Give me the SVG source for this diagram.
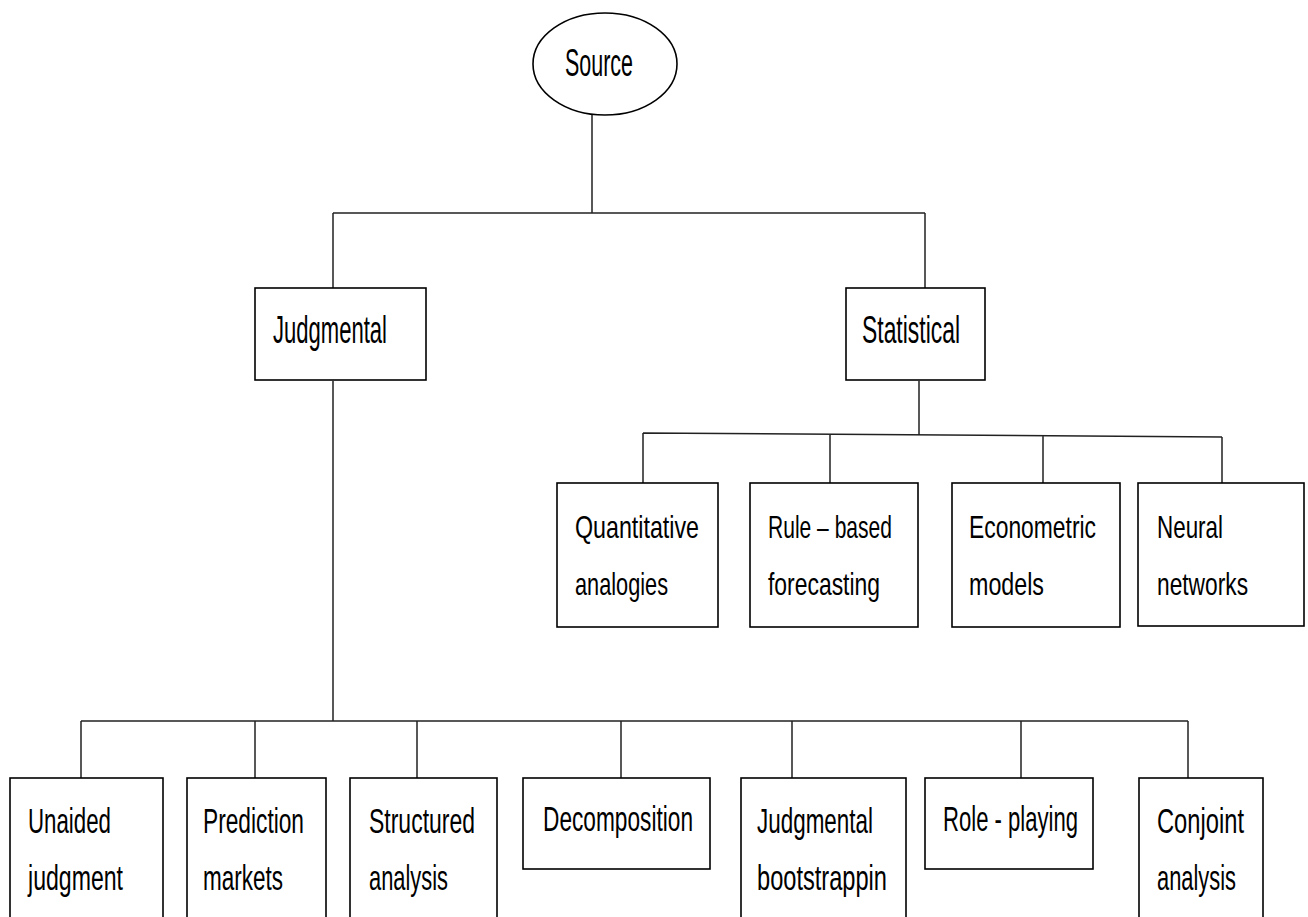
<svg xmlns="http://www.w3.org/2000/svg" width="1308" height="917" viewBox="0 0 1308 917">
<style>
.n{fill:#fff;stroke:#000;stroke-width:1.6}
.c{fill:none;stroke:#222;stroke-width:1.5}
.t{font-family:"Liberation Sans",Arial,sans-serif;fill:#000}
.big{font-size:38px}
.sm{font-size:32px}
.md{font-size:35px}
</style>
<rect width="1308" height="917" fill="#fff"/>
<g id="connectors">
<path class="c" d="M592 115V213M333 213H925M333 213V288M925 213V288"/>
<path class="c" d="M919 381V435M643 433L1222 437M643 433V483M830 434V483M1043 436V483M1222 437V483"/>
<path class="c" d="M333 381V721M81 721H1188M81 721V778M255 721V778M417 721V778M621 721V778M792 721V778M1021 721V778M1188 721V778"/>
</g>
<g id="source">
<ellipse class="n" cx="605" cy="64" rx="72" ry="51"/>
<text class="t big" x="565" y="76" textLength="68" lengthAdjust="spacingAndGlyphs">Source</text>
</g>
<g id="judgmental">
<rect class="n" x="255" y="288" width="171" height="92"/>
<text class="t big" x="273" y="343" textLength="114" lengthAdjust="spacingAndGlyphs">Judgmental</text>
</g>
<g id="statistical">
<rect class="n" x="846" y="288" width="139" height="92"/>
<text class="t big" x="862" y="343" textLength="98" lengthAdjust="spacingAndGlyphs">Statistical</text>
</g>
<g id="quantitative">
<rect class="n" x="557" y="483" width="161" height="144"/>
<text class="t sm" x="575" y="538" textLength="124" lengthAdjust="spacingAndGlyphs">Quantitative</text>
<text class="t sm" x="575" y="595" textLength="93" lengthAdjust="spacingAndGlyphs">analogies</text>
</g>
<g id="rulebased">
<rect class="n" x="750" y="483" width="168" height="144"/>
<text class="t sm" x="768" y="538" textLength="124" lengthAdjust="spacingAndGlyphs">Rule – based</text>
<text class="t sm" x="768" y="595" textLength="112" lengthAdjust="spacingAndGlyphs">forecasting</text>
</g>
<g id="econometric">
<rect class="n" x="952" y="483" width="168" height="144"/>
<text class="t sm" x="969" y="538" textLength="127" lengthAdjust="spacingAndGlyphs">Econometric</text>
<text class="t sm" x="969" y="595" textLength="75" lengthAdjust="spacingAndGlyphs">models</text>
</g>
<g id="neural">
<rect class="n" x="1138" y="483" width="166" height="143"/>
<text class="t sm" x="1157" y="538" textLength="66" lengthAdjust="spacingAndGlyphs">Neural</text>
<text class="t sm" x="1157" y="595" textLength="91" lengthAdjust="spacingAndGlyphs">networks</text>
</g>
<g id="unaided">
<rect class="n" x="10" y="778" width="153" height="150"/>
<text class="t md" x="28" y="833" textLength="83" lengthAdjust="spacingAndGlyphs">Unaided</text>
<text class="t md" x="28" y="890" textLength="95" lengthAdjust="spacingAndGlyphs">judgment</text>
</g>
<g id="prediction">
<rect class="n" x="187" y="778" width="139" height="150"/>
<text class="t md" x="203" y="833" textLength="101" lengthAdjust="spacingAndGlyphs">Prediction</text>
<text class="t md" x="203" y="890" textLength="80" lengthAdjust="spacingAndGlyphs">markets</text>
</g>
<g id="structured">
<rect class="n" x="350" y="778" width="147" height="150"/>
<text class="t md" x="369" y="833" textLength="106" lengthAdjust="spacingAndGlyphs">Structured</text>
<text class="t md" x="369" y="890" textLength="79" lengthAdjust="spacingAndGlyphs">analysis</text>
</g>
<g id="decomposition">
<rect class="n" x="523" y="778" width="187" height="91"/>
<text class="t md" x="543" y="831" textLength="150" lengthAdjust="spacingAndGlyphs">Decomposition</text>
</g>
<g id="bootstrapping">
<rect class="n" x="741" y="778" width="165" height="150"/>
<text class="t md" x="757" y="833" textLength="116" lengthAdjust="spacingAndGlyphs">Judgmental</text>
<text class="t md" x="757" y="890" textLength="130" lengthAdjust="spacingAndGlyphs">bootstrappin</text>
</g>
<g id="roleplaying">
<rect class="n" x="925" y="778" width="168" height="91"/>
<text class="t md" x="943" y="831" textLength="135" lengthAdjust="spacingAndGlyphs">Role - playing</text>
</g>
<g id="conjoint">
<rect class="n" x="1139" y="778" width="124" height="150"/>
<text class="t md" x="1157" y="833" textLength="87" lengthAdjust="spacingAndGlyphs">Conjoint</text>
<text class="t md" x="1157" y="890" textLength="79" lengthAdjust="spacingAndGlyphs">analysis</text>
</g>
</svg>
